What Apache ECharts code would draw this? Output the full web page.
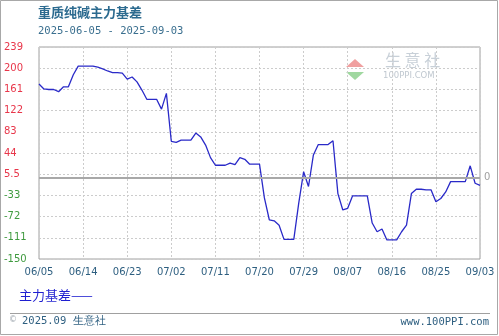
<!DOCTYPE html>
<html>
<head>
<meta charset="utf-8">
<script src="https://cdn.jsdelivr.net/npm/echarts@6/dist/echarts.min.js"></script>
<style>html,body{margin:0;padding:0;background:#fff;}#c{width:499px;height:336px;}</style>
</head>
<body>
<div id="c"></div>
<script>
// ---- data ----
const startDate = '2025-06-05';
const dayCount = 91;
const basis = [
  171, 162, 161, 161, 157, 166, 166, 188, 204, 204,
  204, 204, 202, 199, 195, 192, 192, 191, 180, 184,
  175, 160, 143, 143, 143, 125, 154, 66, 64, 68,
  68, 68, 81, 74, 59, 36, 22, 22, 22, 26,
  23, 36, 33, 24, 24, 24, -38, -78, -80, -88,
  -114, -114, -114, -48, 10, -17, 41, 60, 60, 60,
  67, -30, -60, -57, -34, -34, -34, -34, -84, -100,
  -95, -115, -115, -115, -100, -88, -30, -22, -22, -23,
  -23, -45, -39, -27, -8, -8, -8, -8, 21, -11,
  -15
];
const yTickLabels = ['-150', '-111', '-72', '-33', '5.5', '44', '83', '122', '161', '200', '239'];
const yMin = -150, yMax = 239;

const categories = [];
(function(){
  const d0 = new Date(startDate + 'T00:00:00Z');
  for (let i = 0; i < dayCount; i++) {
    const d = new Date(d0.getTime() + i * 86400000);
    const mm = String(d.getUTCMonth() + 1).padStart(2, '0');
    const dd = String(d.getUTCDate()).padStart(2, '0');
    categories.push(mm + '/' + dd);
  }
})();

const step = (yMax - yMin) / (yTickLabels.length - 1);
function tickIndex(v){ return Math.round((v - yMin) / step); }

const chart = echarts.init(document.getElementById('c'), null, {renderer: 'canvas'});
chart.setOption({
  animation: false,
  backgroundColor: '#fff',
  grid: {left: 39, top: 47, right: 19, bottom: 77, show: true, borderColor: '#a0a0a0', borderWidth: 1, backgroundColor: 'transparent'},
  xAxis: {
    type: 'category',
    data: categories,
    boundaryGap: false,
    axisLine: {show: false},
    axisTick: {show: false},
    axisLabel: {interval: 8, color: '#2e5f80', fontSize: 10, fontFamily: 'DejaVu Sans', margin: 8, showMaxLabel: true},
    splitLine: {show: true, interval: 8, lineStyle: {color: '#cccccc', type: [2, 2], width: 1}}
  },
  yAxis: {
    type: 'value',
    min: yMin,
    max: yMax,
    interval: step,
    axisLine: {show: false},
    axisTick: {show: false},
    splitLine: {show: true, lineStyle: {color: '#cccccc', type: [2, 2], width: 1}},
    axisLabel: {
      align: 'left',
      margin: 35,
      fontSize: 10,
      fontFamily: 'DejaVu Sans',
      formatter: function(v){ const i = tickIndex(v); return yTickLabels[i] !== undefined ? yTickLabels[i] : ''; },
      color: function(v){ return tickIndex(v) <= 3 ? '#3f9a3f' : '#e8364a'; }
    }
  },
  series: [{
    type: 'line',
    name: '主力基差',
    data: basis,
    symbol: 'none',
    lineStyle: {color: '#2a2ac8', width: 1.3},
    markLine: {
      silent: true,
      symbol: 'none',
      data: [{yAxis: 0}],
      lineStyle: {color: '#a8a8a8', type: 'solid', width: 2},
      label: {show: true, position: 'end', formatter: '0', color: '#a0a0a0', fontSize: 10, fontFamily: 'DejaVu Sans', distance: 4}
    }
  }],
  graphic: [
    {type: 'rect', shape: {x: 0.5, y: 0.5, width: 497, height: 334}, style: {fill: 'none', stroke: '#a8a8a8', lineWidth: 1}, silent: true, z: -1},
    {type: 'text', left: 38, top: 6, style: {text: '重质纯碱主力基差', fill: '#2b6a8f', font: 'bold 13px "Noto Sans CJK SC"'}},
    {type: 'text', left: 38, top: 26, style: {text: '2025-06-05 - 2025-09-03', fill: '#3a6f8f', font: '10.5px "DejaVu Sans Mono"'}},
    // watermark
    {type: 'polygon', shape: {points: [[355, 59], [346, 67], [364, 67]]}, style: {fill: '#f0a0a0'}, silent: true},
    {type: 'polygon', shape: {points: [[346, 72], [364, 72], [355, 80]]}, style: {fill: '#a0d8a0'}, silent: true},
    {type: 'text', left: 385, top: 52, style: {text: '生 意 社', fill: '#c8d0d8', font: '16px "Noto Sans CJK SC"'}, silent: true},
    {type: 'text', left: 383, top: 71, style: {text: '100PPI.COM', fill: '#c0c8d0', font: '8.5px "DejaVu Sans"'}, silent: true},
    // legend
    {type: 'text', left: 19, top: 289, style: {text: '主力基差——', fill: '#1f1fd0', font: '13px "Noto Sans CJK SC"'}},
    // footer
    {type: 'line', shape: {x1: 10, y1: 313.5, x2: 490, y2: 313.5}, style: {stroke: '#a0a0a0', lineWidth: 1}},
    {type: 'text', left: 9, top: 316, style: {text: '©', fill: '#a0a8b0', font: '8px "DejaVu Sans"'}},
    {type: 'text', left: 22, top: 316, style: {text: '2025.09 生意社', fill: '#2e5f80', font: '10.5px "DejaVu Sans Mono"'}},
    {type: 'text', right: 10, top: 317, style: {text: 'www.100PPI.com', fill: '#2e5f80', font: '10.5px "DejaVu Sans Mono"'}}
  ]
});
</script>
</body>
</html>
